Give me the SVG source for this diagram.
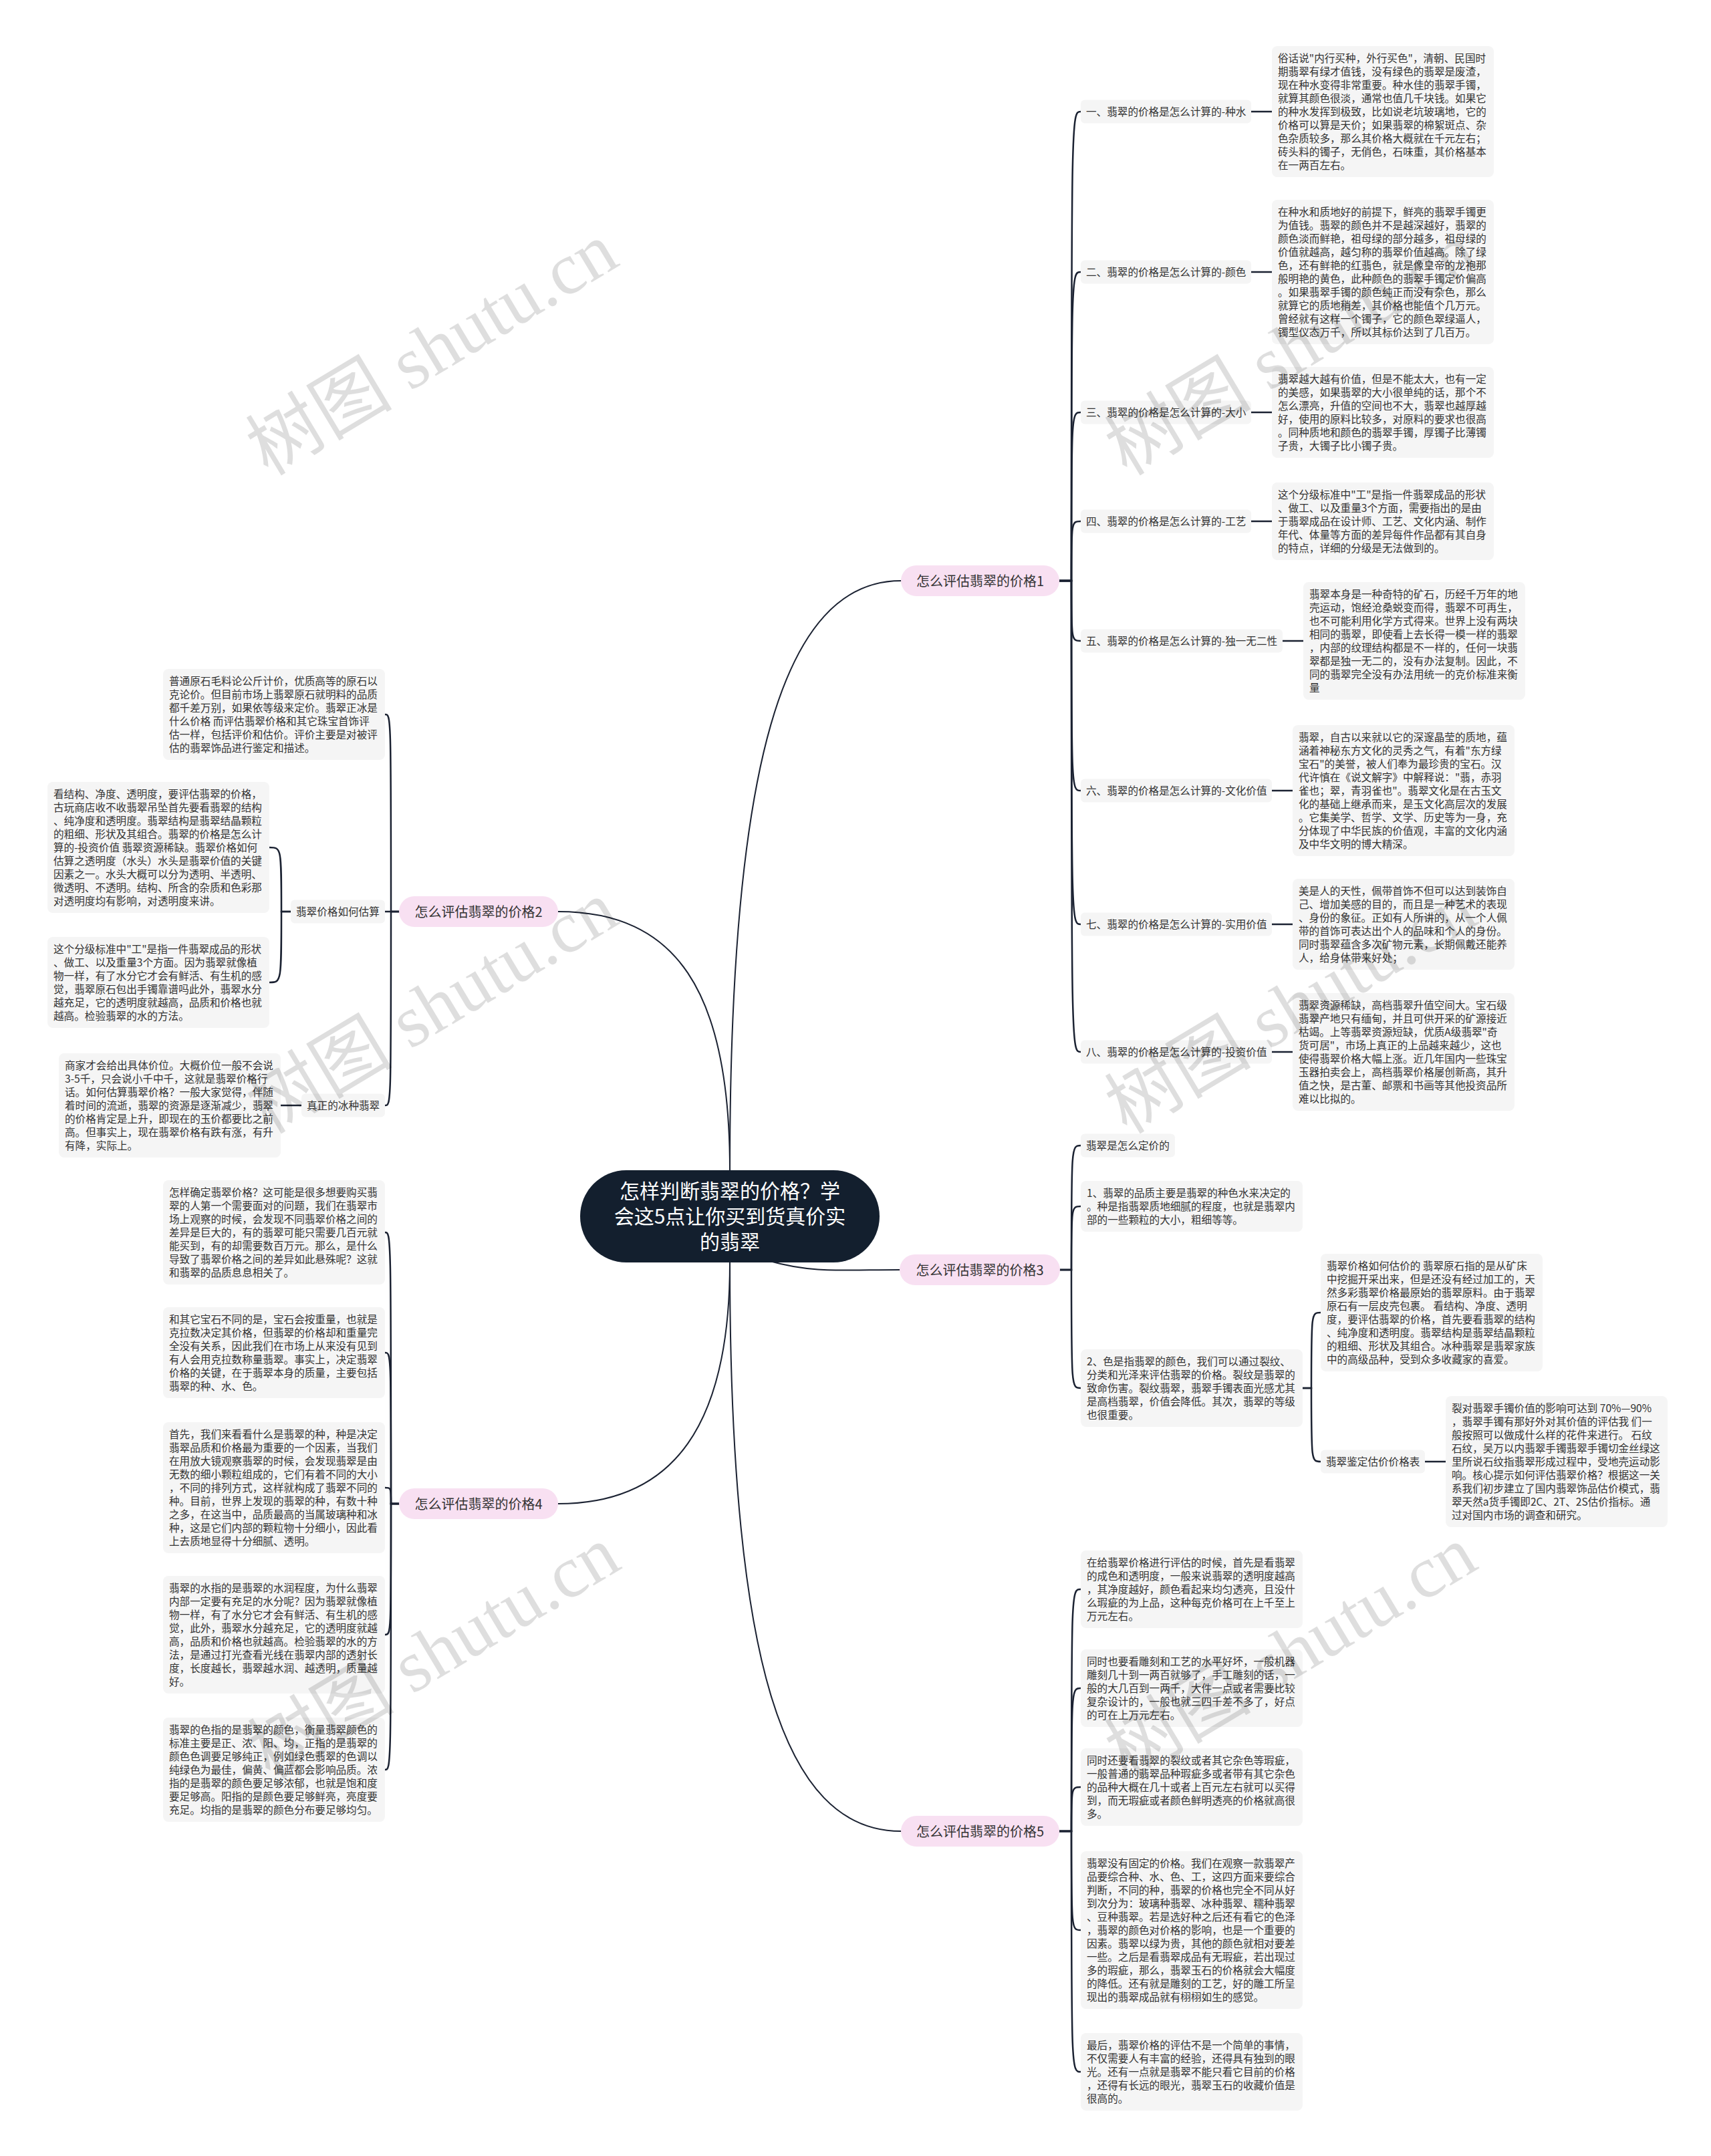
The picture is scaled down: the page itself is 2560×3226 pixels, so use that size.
<svg xmlns="http://www.w3.org/2000/svg" width="2560" height="3226" viewBox="0 0 2560 3226">
<style>
text{font-family:"Noto Sans CJK SC","Noto Sans",sans-serif;}
.t{font-size:15.6px;fill:#333333}
.bx{fill:#f5f5f5}
.l1{fill:#f8e0f2}
.l1t{font-size:20px;fill:#333333;text-anchor:middle}
.c{fill:none;stroke:#1b2232;stroke-width:2.5;stroke-linecap:round}
.c0{fill:none;stroke:#1b2232;stroke-width:2;stroke-linecap:round}
.wm{font-family:"Liberation Serif","Noto Sans CJK SC",serif;font-size:110px;fill:#000000;fill-opacity:0.13;text-anchor:middle}
</style>
<rect x="0" y="0" width="2560" height="3226" fill="#ffffff"/>

<g id="connectors">
<path class="c0" d="M1092 1751 C1092 1150 1170 869 1348 869"/>
<path class="c0" d="M835 1364 C1010 1364 1092 1480 1092 1751"/>
<path class="c0" d="M1152 1887 C1215 1905 1260 1900 1346 1900"/>
<path class="c0" d="M835 2250 C1010 2250 1092 2130 1092 1889"/>
<path class="c0" d="M1092 1889 C1092 2480 1170 2740 1348 2740"/>
<!-- B1 -->
<path class="c" d="M1585 869 H1603 C1603 167 1603 167 1617 167"/>
<path class="c" d="M1585 869 H1603 C1603 407 1603 407 1617 407"/>
<path class="c" d="M1585 869 H1603 C1603 617 1603 617 1617 617"/>
<path class="c" d="M1585 869 H1603 C1603 780 1603 780 1617 780"/>
<path class="c" d="M1585 869 H1603 C1603 959 1603 959 1617 959"/>
<path class="c" d="M1585 869 H1603 C1603 1183 1603 1183 1617 1183"/>
<path class="c" d="M1585 869 H1603 C1603 1383 1603 1383 1617 1383"/>
<path class="c" d="M1585 869 H1603 C1603 1574 1603 1574 1617 1574"/>
<path class="c" d="M1872 167 H1903"/>
<path class="c" d="M1872 407 H1903"/>
<path class="c" d="M1872 617 H1903"/>
<path class="c" d="M1872 780 H1903"/>
<path class="c" d="M1919 959 H1950"/>
<path class="c" d="M1903 1183 H1934"/>
<path class="c" d="M1903 1383 H1934"/>
<path class="c" d="M1903 1574 H1934"/>
<!-- B3 -->
<path class="c" d="M1586 1900 H1603 C1603 1714 1603 1714 1617 1714"/>
<path class="c" d="M1586 1900 H1603 C1603 1805 1603 1805 1617 1805"/>
<path class="c" d="M1586 1900 H1603 C1603 2077 1603 2077 1617 2077"/>
<path class="c" d="M1949 2077 H1962 C1962 1964 1962 1964 1976 1964"/>
<path class="c" d="M1949 2077 H1962 C1962 2187 1962 2187 1976 2187"/>
<path class="c" d="M2132 2187 H2163"/>
<!-- B5 -->
<path class="c" d="M1585 2740 H1603 C1603 2378 1603 2378 1617 2378"/>
<path class="c" d="M1585 2740 H1603 C1603 2526 1603 2526 1617 2526"/>
<path class="c" d="M1585 2740 H1603 C1603 2674 1603 2674 1617 2674"/>
<path class="c" d="M1585 2740 H1603 C1603 2888 1603 2888 1617 2888"/>
<path class="c" d="M1585 2740 H1603 C1603 3100 1603 3100 1617 3100"/>
<!-- B2 -->
<path class="c" d="M597 1364 H585 C585 1069 585 1069 576 1069"/>
<path class="c" d="M597 1364 H576"/>
<path class="c" d="M597 1364 H585 C585 1654 585 1654 576 1654"/>
<path class="c" d="M435 1364 H421 C421 1268 421 1268 403 1268"/>
<path class="c" d="M435 1364 H421 C421 1470 421 1470 403 1470"/>
<path class="c" d="M451 1654 H420"/>
<!-- B4 -->
<path class="c" d="M597 2250 H585 C585 1844 585 1844 576 1844"/>
<path class="c" d="M597 2250 H585 C585 2024 585 2024 576 2024"/>
<path class="c" d="M597 2250 H585 C585 2226 585 2226 576 2226"/>
<path class="c" d="M597 2250 H585 C585 2446 585 2446 576 2446"/>
<path class="c" d="M597 2250 H585 C585 2648 585 2648 576 2648"/>
</g>

<g id="root">
<rect x="868" y="1751" width="448" height="138" rx="69" fill="#131f2e"/>
<text font-size="30" fill="#ffffff" text-anchor="middle"><tspan x="1092" y="1793">怎样判断翡翠的价格？学</tspan><tspan x="1092" y="1831">会这5点让你买到货真价实</tspan><tspan x="1092" y="1869">的翡翠</tspan></text>
</g>

<g id="b1"><rect class="l1" x="1348" y="846" width="237" height="46" rx="23"/><text class="l1t" x="1466.5" y="876.5">怎么评估翡翠的价格1</text></g>
<g id="b2"><rect class="l1" x="597" y="1341" width="238" height="46" rx="23"/><text class="l1t" x="716" y="1371.5">怎么评估翡翠的价格2</text></g>
<g id="b3"><rect class="l1" x="1346" y="1877" width="240" height="46" rx="23"/><text class="l1t" x="1466" y="1907.5">怎么评估翡翠的价格3</text></g>
<g id="b4"><rect class="l1" x="597" y="2227" width="238" height="46" rx="23"/><text class="l1t" x="716" y="2257.5">怎么评估翡翠的价格4</text></g>
<g id="b5"><rect class="l1" x="1348" y="2717" width="237" height="46" rx="23"/><text class="l1t" x="1466.5" y="2747.5">怎么评估翡翠的价格5</text></g>

<!-- B1 labels -->
<g id="b1-l1"><rect class="bx" x="1617" y="149.5" width="255" height="35" rx="6"/><text class="t" x="1625" y="173">一、翡翠的价格是怎么计算的-种水</text></g>
<g id="b1-l2"><rect class="bx" x="1617" y="389.5" width="255" height="35" rx="6"/><text class="t" x="1625" y="413">二、翡翠的价格是怎么计算的-颜色</text></g>
<g id="b1-l3"><rect class="bx" x="1617" y="599.5" width="255" height="35" rx="6"/><text class="t" x="1625" y="623">三、翡翠的价格是怎么计算的-大小</text></g>
<g id="b1-l4"><rect class="bx" x="1617" y="762.5" width="255" height="35" rx="6"/><text class="t" x="1625" y="786">四、翡翠的价格是怎么计算的-工艺</text></g>
<g id="b1-l5"><rect class="bx" x="1617" y="941.5" width="302" height="35" rx="6"/><text class="t" x="1625" y="965">五、翡翠的价格是怎么计算的-独一无二性</text></g>
<g id="b1-l6"><rect class="bx" x="1617" y="1165.5" width="286" height="35" rx="6"/><text class="t" x="1625" y="1189">六、翡翠的价格是怎么计算的-文化价值</text></g>
<g id="b1-l7"><rect class="bx" x="1617" y="1365.5" width="286" height="35" rx="6"/><text class="t" x="1625" y="1389">七、翡翠的价格是怎么计算的-实用价值</text></g>
<g id="b1-l8"><rect class="bx" x="1617" y="1556.5" width="286" height="35" rx="6"/><text class="t" x="1625" y="1580">八、翡翠的价格是怎么计算的-投资价值</text></g>

<!-- B1 blocks -->
<g id="r1"><rect class="bx" x="1903" y="69" width="332" height="196" rx="8"/><text class="t" x="1912" y="93"><tspan x="1912" dy="0">俗话说"内行买种，外行买色"，清朝、民国时</tspan><tspan x="1912" dy="20">期翡翠有绿才值钱，没有绿色的翡翠是废渣，</tspan><tspan x="1912" dy="20">现在种水变得非常重要。种水佳的翡翠手镯，</tspan><tspan x="1912" dy="20">就算其颜色很淡，通常也值几千块钱。如果它</tspan><tspan x="1912" dy="20">的种水发挥到极致，比如说老坑玻璃地，它的</tspan><tspan x="1912" dy="20">价格可以算是天价；如果翡翠的棉絮斑点、杂</tspan><tspan x="1912" dy="20">色杂质较多，那么其价格大概就在千元左右；</tspan><tspan x="1912" dy="20">砖头料的镯子，无俏色，石味重，其价格基本</tspan><tspan x="1912" dy="20">在一两百左右。</tspan></text></g>
<g id="r2"><rect class="bx" x="1903" y="299" width="332" height="216" rx="8"/><text class="t" x="1912" y="323"><tspan x="1912" dy="0">在种水和质地好的前提下，鲜亮的翡翠手镯更</tspan><tspan x="1912" dy="20">为值钱。翡翠的颜色并不是越深越好，翡翠的</tspan><tspan x="1912" dy="20">颜色淡而鲜艳，祖母绿的部分越多，祖母绿的</tspan><tspan x="1912" dy="20">价值就越高，越匀称的翡翠价值越高。除了绿</tspan><tspan x="1912" dy="20">色，还有鲜艳的红翡色，就是像皇帝的龙袍那</tspan><tspan x="1912" dy="20">般明艳的黄色，此种颜色的翡翠手镯定价偏高</tspan><tspan x="1912" dy="20">。如果翡翠手镯的颜色纯正而没有杂色，那么</tspan><tspan x="1912" dy="20">就算它的质地稍差，其价格也能值个几万元。</tspan><tspan x="1912" dy="20">曾经就有这样一个镯子，它的颜色翠绿逼人，</tspan><tspan x="1912" dy="20">镯型仪态万千，所以其标价达到了几百万。</tspan></text></g>
<g id="r3"><rect class="bx" x="1903" y="549" width="332" height="136" rx="8"/><text class="t" x="1912" y="573"><tspan x="1912" dy="0">翡翠越大越有价值，但是不能太大，也有一定</tspan><tspan x="1912" dy="20">的美感，如果翡翠的大小很单纯的话，那个不</tspan><tspan x="1912" dy="20">怎么漂亮，升值的空间也不大，翡翠也越厚越</tspan><tspan x="1912" dy="20">好，使用的原料比较多，对原料的要求也很高</tspan><tspan x="1912" dy="20">。同种质地和颜色的翡翠手镯，厚镯子比薄镯</tspan><tspan x="1912" dy="20">子贵，大镯子比小镯子贵。</tspan></text></g>
<g id="r4"><rect class="bx" x="1903" y="722" width="332" height="116" rx="8"/><text class="t" x="1912" y="746"><tspan x="1912" dy="0">这个分级标准中"工"是指一件翡翠成品的形状</tspan><tspan x="1912" dy="20">、做工、以及重量3个方面，需要指出的是由</tspan><tspan x="1912" dy="20">于翡翠成品在设计师、工艺、文化内涵、制作</tspan><tspan x="1912" dy="20">年代、体量等方面的差异每件作品都有其自身</tspan><tspan x="1912" dy="20">的特点，详细的分级是无法做到的。</tspan></text></g>
<g id="r5"><rect class="bx" x="1950" y="871" width="332" height="176" rx="8"/><text class="t" x="1959" y="895"><tspan x="1959" dy="0">翡翠本身是一种奇特的矿石，历经千万年的地</tspan><tspan x="1959" dy="20">壳运动，饱经沧桑蜕变而得，翡翠不可再生，</tspan><tspan x="1959" dy="20">也不可能利用化学方式得来。世界上没有两块</tspan><tspan x="1959" dy="20">相同的翡翠，即使看上去长得一模一样的翡翠</tspan><tspan x="1959" dy="20">，内部的纹理结构都是不一样的，任何一块翡</tspan><tspan x="1959" dy="20">翠都是独一无二的，没有办法复制。因此，不</tspan><tspan x="1959" dy="20">同的翡翠完全没有办法用统一的克价标准来衡</tspan><tspan x="1959" dy="20">量</tspan></text></g>
<g id="r6"><rect class="bx" x="1934" y="1085" width="332" height="196" rx="8"/><text class="t" x="1943" y="1109"><tspan x="1943" dy="0">翡翠，自古以来就以它的深邃晶莹的质地，蕴</tspan><tspan x="1943" dy="20">涵着神秘东方文化的灵秀之气，有着"东方绿</tspan><tspan x="1943" dy="20">宝石"的美誉，被人们奉为最珍贵的宝石。汉</tspan><tspan x="1943" dy="20">代许慎在《说文解字》中解释说："翡，赤羽</tspan><tspan x="1943" dy="20">雀也；翠，青羽雀也"。翡翠文化是在古玉文</tspan><tspan x="1943" dy="20">化的基础上继承而来，是玉文化高层次的发展</tspan><tspan x="1943" dy="20">。它集美学、哲学、文学、历史等为一身，充</tspan><tspan x="1943" dy="20">分体现了中华民族的价值观，丰富的文化内涵</tspan><tspan x="1943" dy="20">及中华文明的博大精深。</tspan></text></g>
<g id="r7"><rect class="bx" x="1934" y="1315" width="332" height="136" rx="8"/><text class="t" x="1943" y="1339"><tspan x="1943" dy="0">美是人的天性，佩带首饰不但可以达到装饰自</tspan><tspan x="1943" dy="20">己、增加美感的目的，而且是一种艺术的表现</tspan><tspan x="1943" dy="20">、身份的象征。正如有人所讲的，从一个人佩</tspan><tspan x="1943" dy="20">带的首饰可表达出个人的品味和个人的身份。</tspan><tspan x="1943" dy="20">同时翡翠蕴含多次矿物元素，长期佩戴还能养</tspan><tspan x="1943" dy="20">人，给身体带来好处；</tspan></text></g>
<g id="r8"><rect class="bx" x="1934" y="1486" width="332" height="176" rx="8"/><text class="t" x="1943" y="1510"><tspan x="1943" dy="0">翡翠资源稀缺，高档翡翠升值空间大。宝石级</tspan><tspan x="1943" dy="20">翡翠产地只有缅甸，并且可供开采的矿源接近</tspan><tspan x="1943" dy="20">枯竭。上等翡翠资源短缺，优质A级翡翠"奇</tspan><tspan x="1943" dy="20">货可居"，市场上真正的上品越来越少，这也</tspan><tspan x="1943" dy="20">使得翡翠价格大幅上涨。近几年国内一些珠宝</tspan><tspan x="1943" dy="20">玉器拍卖会上，高档翡翠价格屡创新高，其升</tspan><tspan x="1943" dy="20">值之快，是古董、邮票和书画等其他投资品所</tspan><tspan x="1943" dy="20">难以比拟的。</tspan></text></g>

<!-- B3 -->
<g id="b3-l1"><rect class="bx" x="1617" y="1696.5" width="141" height="35" rx="6"/><text class="t" x="1625" y="1720">翡翠是怎么定价的</text></g>
<g id="q1"><rect class="bx" x="1617" y="1767" width="332" height="76" rx="8"/><text class="t" x="1626" y="1791"><tspan x="1626" dy="0">1、翡翠的品质主要是翡翠的种色水来决定的</tspan><tspan x="1626" dy="20">。种是指翡翠质地细腻的程度，也就是翡翠内</tspan><tspan x="1626" dy="20">部的一些颗粒的大小，粗细等等。</tspan></text></g>
<g id="q2"><rect class="bx" x="1617" y="2019" width="332" height="116" rx="8"/><text class="t" x="1626" y="2043"><tspan x="1626" dy="0">2、色是指翡翠的颜色，我们可以通过裂纹、</tspan><tspan x="1626" dy="20">分类和光泽来评估翡翠的价格。裂纹是翡翠的</tspan><tspan x="1626" dy="20">致命伤害。裂纹翡翠，翡翠手镯表面光感尤其</tspan><tspan x="1626" dy="20">是高档翡翠，价值会降低。其次，翡翠的等级</tspan><tspan x="1626" dy="20">也很重要。</tspan></text></g>
<g id="q3"><rect class="bx" x="1976" y="1876" width="332" height="176" rx="8"/><text class="t" x="1985" y="1900"><tspan x="1985" dy="0">翡翠价格如何估价的 翡翠原石指的是从矿床</tspan><tspan x="1985" dy="20">中挖掘开采出来，但是还没有经过加工的，天</tspan><tspan x="1985" dy="20">然多彩翡翠价格最原始的翡翠原料。由于翡翠</tspan><tspan x="1985" dy="20">原石有一层皮壳包裹。 看结构、净度、透明</tspan><tspan x="1985" dy="20">度，要评估翡翠的价格，首先要看翡翠的结构</tspan><tspan x="1985" dy="20">、纯净度和透明度。翡翠结构是翡翠结晶颗粒</tspan><tspan x="1985" dy="20">的粗细、形状及其组合。冰种翡翠是翡翠家族</tspan><tspan x="1985" dy="20">中的高级品种，受到众多收藏家的喜爱。</tspan></text></g>
<g id="b3-l2"><rect class="bx" x="1976" y="2169.5" width="156" height="35" rx="6"/><text class="t" x="1984" y="2193">翡翠鉴定估价价格表</text></g>
<g id="q4"><rect class="bx" x="2163" y="2089" width="332" height="196" rx="8"/><text class="t" x="2172" y="2113"><tspan x="2172" dy="0">裂对翡翠手镯价值的影响可达到 70%—90%</tspan><tspan x="2172" dy="20">，翡翠手镯有那好外对其价值的评估我 们一</tspan><tspan x="2172" dy="20">般按照可以做成什么样的花件来进行。 石纹</tspan><tspan x="2172" dy="20">石纹，吴万以内翡翠手镯翡翠手镯切金丝绿这</tspan><tspan x="2172" dy="20">里所说石纹指翡翠形成过程中，受地壳运动影</tspan><tspan x="2172" dy="20">响。核心提示如何评估翡翠价格？根据这一关</tspan><tspan x="2172" dy="20">系我们初步建立了国内翡翠饰品估价模式，翡</tspan><tspan x="2172" dy="20">翠天然a货手镯即2C、2T、2S估价指标。通</tspan><tspan x="2172" dy="20">过对国内市场的调查和研究。</tspan></text></g>

<!-- B5 -->
<g id="k1"><rect class="bx" x="1617" y="2320" width="332" height="116" rx="8"/><text class="t" x="1626" y="2344"><tspan x="1626" dy="0">在给翡翠价格进行评估的时候，首先是看翡翠</tspan><tspan x="1626" dy="20">的成色和透明度，一般来说翡翠的透明度越高</tspan><tspan x="1626" dy="20">，其净度越好，颜色看起来均匀透亮，且没什</tspan><tspan x="1626" dy="20">么瑕疵的为上品，这种每克价格可在上千至上</tspan><tspan x="1626" dy="20">万元左右。</tspan></text></g>
<g id="k2"><rect class="bx" x="1617" y="2468" width="332" height="116" rx="8"/><text class="t" x="1626" y="2492"><tspan x="1626" dy="0">同时也要看雕刻和工艺的水平好坏，一般机器</tspan><tspan x="1626" dy="20">雕刻几十到一两百就够了，手工雕刻的话，一</tspan><tspan x="1626" dy="20">般的大几百到一两千，大件一点或者需要比较</tspan><tspan x="1626" dy="20">复杂设计的，一般也就三四千差不多了，好点</tspan><tspan x="1626" dy="20">的可在上万元左右。</tspan></text></g>
<g id="k3"><rect class="bx" x="1617" y="2616" width="332" height="116" rx="8"/><text class="t" x="1626" y="2640"><tspan x="1626" dy="0">同时还要看翡翠的裂纹或者其它杂色等瑕疵，</tspan><tspan x="1626" dy="20">一般普通的翡翠品种瑕疵多或者带有其它杂色</tspan><tspan x="1626" dy="20">的品种大概在几十或者上百元左右就可以买得</tspan><tspan x="1626" dy="20">到，而无瑕疵或者颜色鲜明透亮的价格就高很</tspan><tspan x="1626" dy="20">多。</tspan></text></g>
<g id="k4"><rect class="bx" x="1617" y="2770" width="332" height="236" rx="8"/><text class="t" x="1626" y="2794"><tspan x="1626" dy="0">翡翠没有固定的价格。我们在观察一款翡翠产</tspan><tspan x="1626" dy="20">品要综合种、水、色、工，这四方面来要综合</tspan><tspan x="1626" dy="20">判断，不同的种，翡翠的价格也完全不同从好</tspan><tspan x="1626" dy="20">到次分为：玻璃种翡翠、冰种翡翠、糯种翡翠</tspan><tspan x="1626" dy="20">、豆种翡翠。若是选好种之后还有看它的色泽</tspan><tspan x="1626" dy="20">，翡翠的颜色对价格的影响，也是一个重要的</tspan><tspan x="1626" dy="20">因素。翡翠以绿为贵，其他的颜色就相对要差</tspan><tspan x="1626" dy="20">一些。之后是看翡翠成品有无瑕疵，若出现过</tspan><tspan x="1626" dy="20">多的瑕疵，那么，翡翠玉石的价格就会大幅度</tspan><tspan x="1626" dy="20">的降低。还有就是雕刻的工艺，好的雕工所呈</tspan><tspan x="1626" dy="20">现出的翡翠成品就有栩栩如生的感觉。</tspan></text></g>
<g id="k5"><rect class="bx" x="1617" y="3042" width="332" height="116" rx="8"/><text class="t" x="1626" y="3066"><tspan x="1626" dy="0">最后，翡翠价格的评估不是一个简单的事情，</tspan><tspan x="1626" dy="20">不仅需要人有丰富的经验，还得具有独到的眼</tspan><tspan x="1626" dy="20">光。还有一点就是翡翠不能只看它目前的价格</tspan><tspan x="1626" dy="20">，还得有长远的眼光，翡翠玉石的收藏价值是</tspan><tspan x="1626" dy="20">很高的。</tspan></text></g>

<!-- B2 -->
<g id="u1"><rect class="bx" x="244" y="1001" width="332" height="136" rx="8"/><text class="t" x="253" y="1025"><tspan x="253" dy="0">普通原石毛料论公斤计价，优质高等的原石以</tspan><tspan x="253" dy="20">克论价。但目前市场上翡翠原石就明料的品质</tspan><tspan x="253" dy="20">都千差万别，如果依等级来定价。翡翠正冰是</tspan><tspan x="253" dy="20">什么价格 而评估翡翠价格和其它珠宝首饰评</tspan><tspan x="253" dy="20">估一样，包括评价和估价。评价主要是对被评</tspan><tspan x="253" dy="20">估的翡翠饰品进行鉴定和描述。</tspan></text></g>
<g id="b2-l1"><rect class="bx" x="435" y="1346.5" width="141" height="35" rx="6"/><text class="t" x="443" y="1370">翡翠价格如何估算</text></g>
<g id="u2"><rect class="bx" x="71" y="1170" width="332" height="196" rx="8"/><text class="t" x="80" y="1194"><tspan x="80" dy="0">看结构、净度、透明度，要评估翡翠的价格，</tspan><tspan x="80" dy="20">古玩商店收不收翡翠吊坠首先要看翡翠的结构</tspan><tspan x="80" dy="20">、纯净度和透明度。翡翠结构是翡翠结晶颗粒</tspan><tspan x="80" dy="20">的粗细、形状及其组合。翡翠的价格是怎么计</tspan><tspan x="80" dy="20">算的-投资价值 翡翠资源稀缺。翡翠价格如何</tspan><tspan x="80" dy="20">估算之透明度（水头）水头是翡翠价值的关键</tspan><tspan x="80" dy="20">因素之一。水头大概可以分为透明、半透明、</tspan><tspan x="80" dy="20">微透明、不透明。结构、所含的杂质和色彩那</tspan><tspan x="80" dy="20">对透明度均有影响，对透明度来讲。</tspan></text></g>
<g id="u3"><rect class="bx" x="71" y="1402" width="332" height="136" rx="8"/><text class="t" x="80" y="1426"><tspan x="80" dy="0">这个分级标准中"工"是指一件翡翠成品的形状</tspan><tspan x="80" dy="20">、做工、以及重量3个方面。因为翡翠就像植</tspan><tspan x="80" dy="20">物一样，有了水分它才会有鲜活、有生机的感</tspan><tspan x="80" dy="20">觉，翡翠原石包出手镯靠谱吗此外，翡翠水分</tspan><tspan x="80" dy="20">越充足，它的透明度就越高，品质和价格也就</tspan><tspan x="80" dy="20">越高。检验翡翠的水的方法。</tspan></text></g>
<g id="b2-l2"><rect class="bx" x="451" y="1636.5" width="125" height="35" rx="6"/><text class="t" x="459" y="1660">真正的冰种翡翠</text></g>
<g id="u4"><rect class="bx" x="88" y="1576" width="332" height="156" rx="8"/><text class="t" x="97" y="1600"><tspan x="97" dy="0">商家才会给出具体价位。大概价位一般不会说</tspan><tspan x="97" dy="20">3-5千，只会说小千中千，这就是翡翠价格行</tspan><tspan x="97" dy="20">话。如何估算翡翠价格？一般大家觉得，伴随</tspan><tspan x="97" dy="20">着时间的流逝，翡翠的资源是逐渐减少，翡翠</tspan><tspan x="97" dy="20">的价格肯定是上升，即现在的玉价都要比之前</tspan><tspan x="97" dy="20">高。但事实上，现在翡翠价格有跌有涨，有升</tspan><tspan x="97" dy="20">有降，实际上。</tspan></text></g>

<!-- B4 -->
<g id="v1"><rect class="bx" x="244" y="1766" width="332" height="156" rx="8"/><text class="t" x="253" y="1790"><tspan x="253" dy="0">怎样确定翡翠价格？这可能是很多想要购买翡</tspan><tspan x="253" dy="20">翠的人第一个需要面对的问题，我们在翡翠市</tspan><tspan x="253" dy="20">场上观察的时候，会发现不同翡翠价格之间的</tspan><tspan x="253" dy="20">差异是巨大的，有的翡翠可能只需要几百元就</tspan><tspan x="253" dy="20">能买到，有的却需要数百万元。那么，是什么</tspan><tspan x="253" dy="20">导致了翡翠价格之间的差异如此悬殊呢？这就</tspan><tspan x="253" dy="20">和翡翠的品质息息相关了。</tspan></text></g>
<g id="v2"><rect class="bx" x="244" y="1956" width="332" height="136" rx="8"/><text class="t" x="253" y="1980"><tspan x="253" dy="0">和其它宝石不同的是，宝石会按重量，也就是</tspan><tspan x="253" dy="20">克拉数决定其价格，但翡翠的价格却和重量完</tspan><tspan x="253" dy="20">全没有关系，因此我们在市场上从来没有见到</tspan><tspan x="253" dy="20">有人会用克拉数称量翡翠。事实上，决定翡翠</tspan><tspan x="253" dy="20">价格的关键，在于翡翠本身的质量，主要包括</tspan><tspan x="253" dy="20">翡翠的种、水、色。</tspan></text></g>
<g id="v3"><rect class="bx" x="244" y="2128" width="332" height="196" rx="8"/><text class="t" x="253" y="2152"><tspan x="253" dy="0">首先，我们来看看什么是翡翠的种，种是决定</tspan><tspan x="253" dy="20">翡翠品质和价格最为重要的一个因素，当我们</tspan><tspan x="253" dy="20">在用放大镜观察翡翠的时候，会发现翡翠是由</tspan><tspan x="253" dy="20">无数的细小颗粒组成的，它们有着不同的大小</tspan><tspan x="253" dy="20">，不同的排列方式，这样就构成了翡翠不同的</tspan><tspan x="253" dy="20">种。目前，世界上发现的翡翠的种，有数十种</tspan><tspan x="253" dy="20">之多，在这当中，品质最高的当属玻璃种和冰</tspan><tspan x="253" dy="20">种，这是它们内部的颗粒物十分细小，因此看</tspan><tspan x="253" dy="20">上去质地显得十分细腻、透明。</tspan></text></g>
<g id="v4"><rect class="bx" x="244" y="2358" width="332" height="176" rx="8"/><text class="t" x="253" y="2382"><tspan x="253" dy="0">翡翠的水指的是翡翠的水润程度，为什么翡翠</tspan><tspan x="253" dy="20">内部一定要有充足的水分呢？因为翡翠就像植</tspan><tspan x="253" dy="20">物一样，有了水分它才会有鲜活、有生机的感</tspan><tspan x="253" dy="20">觉，此外，翡翠水分越充足，它的透明度就越</tspan><tspan x="253" dy="20">高，品质和价格也就越高。检验翡翠的水的方</tspan><tspan x="253" dy="20">法，是通过打光查看光线在翡翠内部的透射长</tspan><tspan x="253" dy="20">度，长度越长，翡翠越水润、越透明，质量越</tspan><tspan x="253" dy="20">好。</tspan></text></g>
<g id="v5"><rect class="bx" x="244" y="2570" width="332" height="156" rx="8"/><text class="t" x="253" y="2594"><tspan x="253" dy="0">翡翠的色指的是翡翠的颜色，衡量翡翠颜色的</tspan><tspan x="253" dy="20">标准主要是正、浓、阳、均，正指的是翡翠的</tspan><tspan x="253" dy="20">颜色色调要足够纯正，例如绿色翡翠的色调以</tspan><tspan x="253" dy="20">纯绿色为最佳，偏黄、偏蓝都会影响品质。浓</tspan><tspan x="253" dy="20">指的是翡翠的颜色要足够浓郁，也就是饱和度</tspan><tspan x="253" dy="20">要足够高。阳指的是颜色要足够鲜亮，亮度要</tspan><tspan x="253" dy="20">充足。均指的是翡翠的颜色分布要足够均匀。</tspan></text></g>

<g id="watermark">
<text class="wm" x="645" y="560" transform="rotate(-31 645 520)">树图 shutu.cn</text>
<text class="wm" x="1930" y="560" transform="rotate(-31 1930 520)">树图 shutu.cn</text>
<text class="wm" x="645" y="1545" transform="rotate(-31 645 1505)">树图 shutu.cn</text>
<text class="wm" x="1930" y="1545" transform="rotate(-31 1930 1505)">树图 shutu.cn</text>
<text class="wm" x="648" y="2510" transform="rotate(-31 648 2470)">树图 shutu.cn</text>
<text class="wm" x="1930" y="2510" transform="rotate(-31 1930 2470)">树图 shutu.cn</text>
</g>
</svg>
